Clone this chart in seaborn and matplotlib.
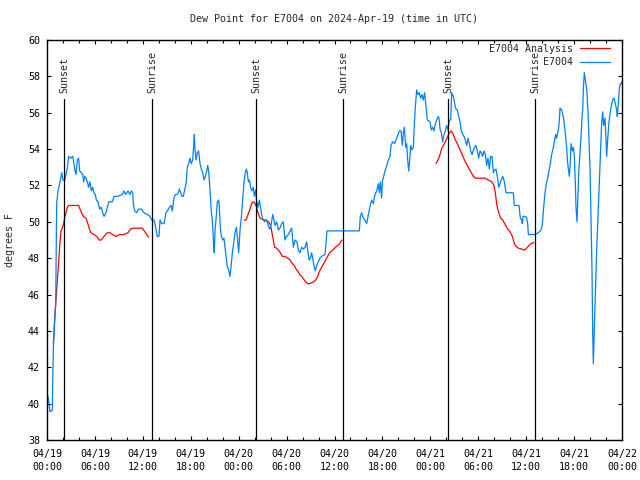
import seaborn as sns
import pandas as pd
import numpy as np
import matplotlib
matplotlib.use('Agg')
from matplotlib import pyplot as plt
import matplotlib.dates as mdates
from matplotlib.lines import Line2D

station = 'E7004'
start = pd.Timestamp('2024-04-19 00:00')
end = pd.Timestamp('2024-04-22 00:00')

# observed dew point, hours after 04/19 00:00 UTC
obs_hours = [
    0.13, 0.38, 0.67, 0.71, 0.79, 0.96, 1.09, 1.17, 1.21, 1.38, 1.54, 1.71, 1.84, 2.00,
    2.21, 2.38, 2.55, 2.71, 2.96, 3.21, 3.34, 3.51, 3.63, 3.80, 3.96, 4.09, 4.30, 4.47,
    4.59, 4.72, 4.88, 5.05, 5.22, 5.38, 5.55, 5.72, 5.88, 6.05, 6.18, 6.39, 6.59, 6.80,
    6.97, 7.14, 7.39, 7.55, 7.72, 8.18, 8.39, 8.81, 9.43, 9.64, 9.85, 10.14, 10.39, 10.56,
    10.73, 10.81, 10.98, 11.23, 11.48, 11.81, 12.15, 12.56, 12.90, 13.11, 13.40, 13.61,
    13.81, 14.02, 14.15, 14.36, 14.65, 14.78, 14.90, 15.07, 15.32, 15.53, 15.69, 15.90,
    16.07, 16.24, 16.45, 16.57, 16.74, 16.90, 17.07, 17.24, 17.41, 17.57, 17.74, 17.90,
    18.07, 18.24, 18.37, 18.45, 18.53, 18.66, 18.82, 18.99, 19.16, 19.33, 19.49, 19.66,
    19.83, 20.00, 20.12, 20.24, 20.41, 20.58, 20.70, 20.79, 20.87, 20.95, 21.04, 21.16,
    21.33, 21.50, 21.58, 21.70, 21.83, 22.00, 22.16, 22.29, 22.41, 22.58, 22.75, 22.91,
    23.04, 23.21, 23.37, 23.54, 23.71, 23.87, 24.00, 24.17, 24.33, 24.50, 24.67, 24.83,
    24.96, 25.08, 25.21, 25.34, 25.50, 25.67, 25.84, 25.96, 26.13, 26.25, 26.42, 26.59,
    26.75, 26.92, 27.09, 27.25, 27.42, 27.59, 27.76, 27.92, 28.09, 28.26, 28.42, 28.55,
    28.76, 28.97, 29.22, 29.38, 29.59, 29.80, 30.01, 30.22, 30.43, 30.64, 30.85, 31.05,
    31.30, 31.47, 31.68, 31.89, 32.10, 32.31, 32.51, 32.64, 32.81, 32.97, 33.14, 33.31,
    33.47, 33.60, 33.77, 33.98, 34.18, 34.39, 34.81, 34.94, 35.06, 36.06, 37.10, 39.11,
    39.23, 39.40, 39.61, 39.82, 40.03, 40.24, 40.45, 40.65, 40.86, 41.07, 41.28, 41.49,
    41.61, 41.74, 41.90, 41.99, 42.16, 42.32, 42.49, 42.74, 42.95, 43.08, 43.28, 43.53,
    43.70, 43.87, 44.12, 44.33, 44.50, 44.62, 44.75, 44.91, 45.04, 45.16, 45.29, 45.41,
    45.54, 45.70, 45.87, 46.00, 46.12, 46.29, 46.46, 46.62, 46.79, 46.96, 47.12, 47.29,
    47.46, 47.62, 47.96, 48.13, 48.29, 48.46, 48.58, 48.79, 49.00, 49.13, 49.21, 49.38,
    49.54, 49.71, 49.88, 50.05, 50.21, 50.38, 50.55, 50.67, 50.88, 51.05, 51.21, 51.38,
    51.55, 51.71, 51.88, 52.05, 52.22, 52.38, 52.55, 52.72, 52.88, 53.05, 53.22, 53.38,
    53.55, 53.72, 53.89, 54.05, 54.22, 54.39, 54.55, 54.72, 54.89, 55.05, 55.22, 55.39,
    55.55, 55.72, 55.89, 56.05, 56.22, 56.39, 56.56, 56.72, 56.89, 57.06, 57.22, 57.48,
    58.39, 58.52, 59.10, 59.27, 59.44, 59.52, 59.60, 59.85, 60.06, 60.19, 60.27, 61.10,
    61.52, 61.86, 62.02, 62.19, 62.36, 62.53, 62.69, 62.86, 63.03, 63.19, 63.36, 63.53,
    63.69, 63.82, 63.94, 64.11, 64.24, 64.45, 64.66, 64.86, 65.07, 65.16, 65.28, 65.41,
    65.49, 65.62, 65.78, 65.91, 66.03, 66.16, 66.24, 66.37, 66.45, 66.58, 66.74, 66.87,
    67.00, 67.08, 67.16, 67.28, 67.41, 67.58, 67.74, 67.87, 68.00, 68.12, 68.25, 68.33,
    68.41, 68.50, 68.58, 68.70, 68.83, 68.95, 69.08, 69.20, 69.33, 69.45, 69.58, 69.70,
    69.87, 70.00, 70.08, 70.20, 70.37, 70.58, 70.83, 70.99, 71.12, 71.33, 71.41, 71.54,
    71.66, 71.79, 71.91, 71.98,
]
obs_dewp = [
    40.4, 39.55, 39.65, 41.0, 43.0, 44.6, 45.5, 49.0, 51.0, 51.7, 52.0, 52.4, 52.7, 52.3,
    52.3, 52.6, 53.0, 53.6, 53.5, 53.6, 53.3, 52.8, 52.6, 53.4, 53.5, 52.8, 52.7, 52.6,
    52.2, 52.5, 52.4, 52.2, 51.9, 52.2, 51.7, 51.9, 51.6, 51.5, 51.2, 51.1, 50.7, 50.8,
    50.5, 50.3, 50.5, 50.8, 51.1, 51.1, 51.4, 51.4, 51.5, 51.7, 51.5, 51.7, 51.5, 51.7,
    51.6, 51.0, 50.6, 50.5, 50.7, 50.7, 50.5, 50.4, 50.3, 50.1, 50.1, 49.7,
    49.2, 49.2, 50.1, 49.9, 49.9, 50.2, 50.5, 50.6, 50.8, 50.9, 50.6, 51.3,
    51.5, 51.5, 51.6, 51.8, 51.6, 51.4, 51.4, 51.75, 52.1, 53.0, 53.2, 53.5,
    53.2, 53.4, 54.2, 54.8, 54.0, 53.4, 53.8, 53.9, 53.2, 52.9, 52.7, 52.3,
    52.5, 52.8, 53.1, 52.8, 51.75, 50.5, 50.1, 49.4, 48.6, 48.3, 49.55, 50.1,
    51.1, 51.2, 50.8, 49.7, 49.2, 49.0, 49.1, 48.6, 48.1, 47.5, 47.35, 47.0,
    47.5, 48.3, 48.8, 49.4, 49.7, 49.0, 48.3, 49.55, 50.2, 51.2, 52.2, 52.7,
    52.9, 52.7, 52.2, 52.3, 51.9, 51.7, 51.9, 51.4, 51.75, 51.1, 50.8, 51.2,
    50.75, 50.3, 50.1, 50.0, 50.1, 50.0, 49.7, 49.6, 49.9, 50.4, 50.1, 49.8,
    50.0, 49.55, 49.7, 49.9, 50.0, 49.0, 49.2, 49.3, 49.5, 49.65, 48.6, 49.0,
    48.9, 48.45, 48.3, 48.6, 48.5, 48.6, 48.9, 48.45, 47.9, 48.0, 48.3, 47.9,
    47.5, 47.3, 47.6, 47.8, 48.0, 48.1, 48.2, 48.8, 49.5, 49.5, 49.5, 49.5,
    50.3, 50.5, 50.2, 50.1, 49.9, 50.4, 50.85, 51.2, 51.0, 51.5, 51.7, 52.1,
    51.6, 52.2, 51.3, 52.2, 52.5, 52.8, 53.0, 53.4, 53.6, 54.2, 54.4, 54.3,
    54.5, 54.7, 55.0, 55.0, 54.2, 54.9, 55.2, 54.1, 54.3, 53.4, 52.8, 53.4,
    54.2, 53.95, 54.1, 55.4, 56.3, 57.25, 57.0, 57.1, 56.8, 57.0, 56.7, 57.1,
    56.3, 55.6, 55.5, 55.05, 55.2, 55.0, 55.3, 55.6, 55.8, 55.6, 55.1, 54.9,
    54.4, 54.8, 55.0, 55.3, 55.05, 55.6, 55.6, 57.1, 56.9, 56.5, 56.2, 56.15,
    55.8, 55.5, 55.0, 54.8, 54.7, 54.5, 54.2, 54.6, 54.3, 53.9, 53.7, 53.95,
    54.1, 54.2, 53.9, 53.5, 53.9, 53.8, 53.6, 53.9, 53.7, 53.1, 53.5, 52.9,
    53.6, 53.6, 52.7, 52.85, 52.9, 52.5, 51.9, 52.1, 52.3, 52.5, 52.3, 51.6,
    51.6, 50.9, 50.9, 50.2, 50.1, 49.9, 50.3, 50.3, 50.25, 49.9, 49.3, 49.3,
    49.4, 49.55, 49.8, 50.8, 51.6, 52.1, 52.4, 52.8, 53.2, 53.7, 54.0, 54.4,
    54.8, 54.6, 54.9, 55.3, 56.25, 56.15, 55.75, 55.05, 54.1, 53.4, 52.9, 52.5,
    53.0, 54.3, 53.9, 54.1, 53.6, 52.1, 50.8, 50.0, 51.0, 52.7, 53.8, 54.7,
    55.8, 56.15, 57.3, 58.2, 57.8, 57.3, 56.1, 54.5, 52.85, 50.1, 47.2, 43.9,
    42.2, 43.5, 44.8, 46.6, 48.45, 49.8, 51.2, 52.75, 53.95, 55.4, 56.05, 55.3,
    55.7, 54.5, 53.6, 54.5, 55.5, 56.2, 56.7, 56.8, 56.6, 56.15, 55.8, 56.5,
    57.3, 57.6, 57.6, 57.7,
]

# analysis dew point, three separate runs
ana1_hours = [
    0.79, 0.96, 1.09, 1.25, 1.42, 1.59, 1.75, 1.96, 2.13, 2.25, 2.38, 2.55, 2.71, 3.96,
    4.22, 4.55, 4.88, 5.18, 5.47, 5.88, 6.22, 6.55, 6.80, 7.14, 7.55, 7.89, 8.22, 8.64,
    9.14, 9.64, 10.14, 10.47, 10.73, 11.94, 12.73,
]
ana1_dewp = [
    43.3, 44.6, 45.5, 46.5, 47.5, 48.7, 49.5, 49.7, 50.0, 50.3, 50.5, 50.8, 50.9, 50.9,
    50.6, 50.3, 50.2, 49.8, 49.4, 49.3, 49.2, 49.0, 49.0, 49.2, 49.4, 49.4, 49.3, 49.2,
    49.3, 49.3, 49.4, 49.6, 49.65, 49.65, 49.15,
]
ana2_hours = [
    24.67, 24.92, 25.17, 25.42, 25.67, 25.92, 26.17, 26.42, 26.67, 27.09, 27.42, 27.76,
    28.00, 28.17, 28.34, 28.50, 28.76, 28.97, 29.22, 29.47, 29.80, 30.14, 30.43, 30.72,
    30.97, 31.18, 31.39, 31.64, 31.89, 32.14, 32.39, 32.64, 32.89, 33.14, 33.39, 33.64,
    33.89, 34.14, 34.39, 34.64, 34.89, 35.14, 35.39, 35.65, 35.90, 36.14, 36.40, 36.65,
    36.90,
]
ana2_dewp = [
    50.1, 50.1, 50.4, 50.7, 51.05, 51.1, 50.9, 50.5, 50.2, 50.1, 50.1, 50.0,
    49.8, 49.4, 49.0, 48.6, 48.55, 48.45, 48.3, 48.1, 48.1, 48.0, 47.9, 47.7,
    47.6, 47.4, 47.3, 47.1, 47.0, 46.85, 46.7, 46.6, 46.6, 46.65, 46.7, 46.8,
    47.0, 47.3, 47.5, 47.7, 47.9, 48.1, 48.3, 48.4, 48.5, 48.6, 48.7, 48.8,
    49.0,
]
ana3_hours = [
    48.71, 48.96, 49.21, 49.42, 49.63, 49.88, 50.13, 50.38, 50.63, 50.88, 51.13, 51.38,
    51.63, 51.88, 52.13, 52.38, 52.63, 52.88, 53.13, 53.38, 53.63, 54.84, 55.26, 55.68,
    55.97, 56.14, 56.30, 56.47, 56.64, 56.81, 57.06, 57.31, 57.68, 57.98, 58.27, 58.52,
    58.73, 59.02, 59.44, 59.77, 60.06, 60.36, 60.60, 60.94,
]
ana3_dewp = [
    53.2, 53.4, 53.7, 54.05, 54.2, 54.4, 54.65, 54.9, 55.0, 54.8, 54.5, 54.3,
    54.05, 53.8, 53.55, 53.3, 53.1, 52.9, 52.7, 52.5, 52.4, 52.4, 52.3, 52.2,
    52.0, 51.6, 51.0, 50.65, 50.4, 50.2, 50.1, 49.9, 49.6, 49.45, 49.2, 48.8,
    48.65, 48.55, 48.5, 48.45, 48.55, 48.7, 48.8, 48.85,
]

sun_times = ['2024-04-19 02:08', '2024-04-19 13:09', '2024-04-20 02:10',
             '2024-04-20 13:06', '2024-04-21 02:14', '2024-04-21 13:06']
sun_names = ['Sunset', 'Sunrise', 'Sunset', 'Sunrise', 'Sunset', 'Sunrise']

obs_color = '#0080ff'
ana_color = '#ff0000'

sns.set_theme(style='ticks')
plt.rcParams['font.family'] = ['DejaVu Sans Mono']
plt.rcParams['font.size'] = 7.2

obs = pd.DataFrame({'time': start + pd.to_timedelta(obs_hours, unit='h'), 'dewp': obs_dewp})
runs = [(ana1_hours, ana1_dewp), (ana2_hours, ana2_dewp), (ana3_hours, ana3_dewp)]
ana = pd.concat([
    pd.DataFrame({'time': start + pd.to_timedelta(h, unit='h'), 'dewp': d, 'run': i})
    for i, (h, d) in enumerate(runs)
], ignore_index=True)

fig = plt.figure(figsize=(6.4, 4.8), dpi=100)
ax = fig.add_axes([47 / 640, 40 / 480, 575 / 640, 400 / 480])

sns.lineplot(data=ana, x='time', y='dewp', units='run', estimator=None,
             color=ana_color, lw=0.9, ax=ax)
sns.lineplot(data=obs, x='time', y='dewp', estimator=None, sort=False,
             color=obs_color, lw=0.9, ax=ax)

ymin, ymax = 38, 60
ax.set_ylim(ymin, ymax)
ax.set_xlim(start, end)
ax.set_yticks(np.arange(ymin, ymax + 1, 2))

# sunrise / sunset markers
line_top = 56.75
for t, name in zip(sun_times, sun_names):
    t = pd.Timestamp(t)
    ax.axvline(t, ymax=(line_top - ymin) / (ymax - ymin), color='black', lw=0.9)
    ax.text(t, 57.1, name, rotation=90, ha='center', va='bottom', fontsize=7.2)

ax.xaxis.set_major_locator(mdates.HourLocator(byhour=range(0, 24, 6)))
ax.xaxis.set_minor_locator(mdates.HourLocator(byhour=range(0, 24, 2)))
ax.xaxis.set_major_formatter(mdates.DateFormatter('%m/%d\n%H:%M'))
ax.tick_params(which='both', direction='in', top=True, right=True,
               width=0.8, colors='black', labelsize=7.2)
ax.tick_params(which='major', length=3, pad=5)
ax.tick_params(axis='x', which='major', pad=6.5)
ax.tick_params(which='minor', length=2.2)
for sp in ax.spines.values():
    sp.set_linewidth(1.0)
    sp.set_color('black')

ax.set_xlabel('')
ax.set_ylabel('degrees F', fontsize=7.2)
ax.yaxis.set_label_coords(-32 / 575, 0.5)
ax.set_title(f'Dew Point for {station} on 2024-Apr-19 (time in UTC)', fontsize=7.2, pad=13)

handles = [Line2D([], [], color=ana_color, lw=0.9), Line2D([], [], color=obs_color, lw=0.9)]
ax.legend(handles, [f'{station} Analysis', station], loc='upper right',
          bbox_to_anchor=(1 - 8 / 575, 1), borderaxespad=0, frameon=False,
          markerfirst=False, handlelength=3, handletextpad=0.7, labelspacing=0.35,
          fontsize=7.2)

fig.canvas.draw()
plt.setp(ax.get_xticklabels(), linespacing=1.4)

fig.savefig('out.png', dpi=100)
